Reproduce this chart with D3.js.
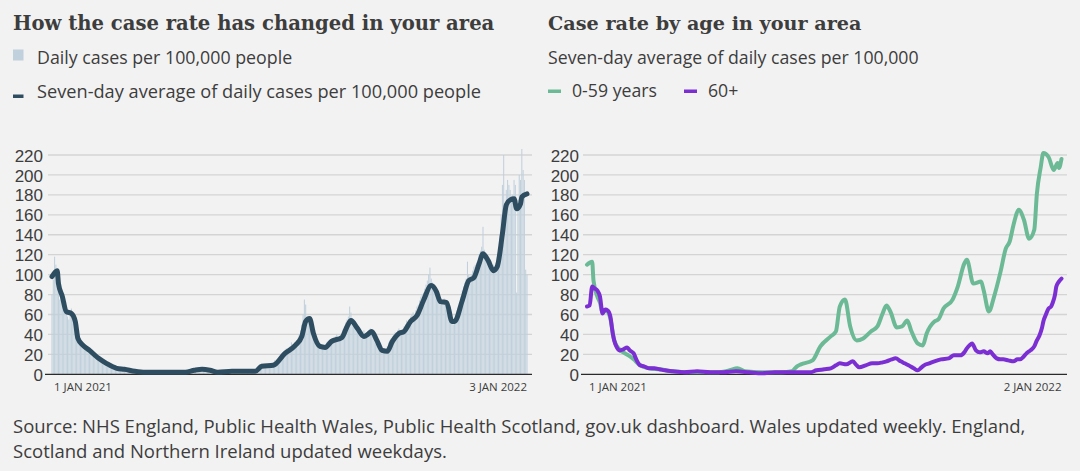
<!DOCTYPE html>
<html>
<head>
<meta charset="utf-8">
<script src="https://cdn.jsdelivr.net/npm/d3@7"></script>
<style>
  html, body { margin: 0; padding: 0; background: #f2f2f2; }
  svg { display: block; }
  .sans { font-family: "Open Sans", "Noto Sans", sans-serif; }
  .tick-sans { font-family: "Liberation Sans", "Open Sans", sans-serif; }
  .serif { font-family: "DejaVu Serif", serif; font-weight: bold; }
</style>
</head>
<body>
<svg id="chart" width="1080" height="471"></svg>
<script>
// ---------------- DATA ----------------
const leftTitle = "How the case rate has changed in your area";
const rightTitle = "Case rate by age in your area";
const rightSubtitle = "Seven-day average of daily cases per 100,000";
const leftLegend = ["Daily cases per 100,000 people", "Seven-day average of daily cases per 100,000 people"];
const rightLegend = ["0-59 years", "60+"];
const yTicks = [0, 20, 40, 60, 80, 100, 120, 140, 160, 180, 200, 220];
const leftXLabels = ["1 JAN 2021", "3 JAN 2022"];
const rightXLabels = ["1 JAN 2021", "2 JAN 2022"];
const sourceLines = [
  "Source: NHS England, Public Health Wales, Public Health Scotland, gov.uk dashboard. Wales updated weekly. England,",
  "Scotland and Northern Ireland updated weekdays."
];
const startDate = "2021-01-01";
const leftEndDate = "2022-01-03";
const rightEndDate = "2022-01-02";

// daily cases per 100,000 (one value per day from 1 Jan 2021)
const dailyCases = [
  80, 95, 118, 110, 100, 90, 75,
  85, 72, 70, 68, 62, 58, 55,
  60, 66, 58, 52, 45, 40, 38,
  40, 36, 33, 30, 28, 24, 26,
  25, 24, 22, 20, 18, 16, 17,
  17, 15, 14, 13, 12, 11, 12,
  12, 10, 9, 8, 8, 7, 7,
  7, 6, 5, 5, 5, 4, 5,
  5, 4, 4, 3, 3, 3, 3,
  3, 3, 3, 2, 3, 2, 3,
  2, 3, 2, 2, 2, 2, 2,
  2, 2, 2, 2, 2, 2, 2,
  2, 2, 3, 2, 2, 2, 2,
  2, 2, 2, 2, 2, 2, 2,
  2, 2, 2, 3, 2, 2, 2,
  3, 3, 4, 4, 5, 5, 4,
  5, 6, 5, 5, 4, 5, 5,
  4, 4, 3, 3, 3, 3, 3,
  2, 2, 2, 2, 2, 2, 3,
  3, 3, 3, 3, 2, 3, 3,
  3, 3, 3, 3, 3, 3, 3,
  3, 3, 4, 3, 3, 4, 3,
  4, 4, 5, 5, 6, 6, 7,
  8, 9, 8, 7, 9, 10, 9,
  10, 9, 10, 12, 14, 12, 11,
  16, 18, 20, 22, 20, 24, 26,
  25, 24, 28, 32, 30, 28, 30,
  34, 36, 40, 44, 50, 60, 75,
  70, 58, 55, 50, 48, 40, 38,
  35, 30, 28, 26, 27, 30, 29,
  28, 30, 32, 33, 34, 35, 36,
  35, 36, 38, 40, 37, 36, 38,
  40, 45, 48, 52, 55, 58, 68,
  62, 52, 50, 48, 45, 42, 40,
  38, 36, 42, 44, 40, 38, 42,
  44, 46, 42, 38, 36, 32, 30,
  26, 24, 22, 22, 24, 26, 25,
  28, 32, 34, 36, 38, 40, 42,
  41, 44, 46, 42, 40, 44, 48,
  50, 54, 52, 55, 58, 60, 62,
  60, 64, 68, 70, 74, 78, 80,
  82, 86, 90, 94, 100, 107, 96,
  92, 88, 84, 80, 76, 74, 70,
  72, 74, 76, 70, 66, 64, 60,
  54, 52, 50, 56, 60, 64, 68,
  72, 78, 84, 88, 92, 96, 113,
  100, 98, 100, 104, 108, 110, 112,
  114, 120, 124, 128, 148, 125, 118,
  116, 112, 108, 104, 102, 110, 106,
  112, 118, 125, 140, 160, 190, 220,
  170, 185, 195, 190, 185, 175, 180,
  195, 190, 82, 175, 200, 195, 226,
  205, 195, 105, 100
];

// seven-day average (day offset from 1 Jan 2021, value)
const avgDays = [0, 4, 5, 8, 11, 15, 18, 20, 24, 29, 36, 42, 50, 56, 64, 72, 97, 103, 110, 116, 122, 128, 139, 157, 162, 171, 180, 188, 193, 196, 199, 202, 207, 211, 216, 224, 228, 231, 236, 241, 244, 247, 251, 255, 259, 263, 268, 272, 277, 282, 287, 293, 297, 300, 305, 309, 311, 317, 322, 326, 330, 333, 337, 341, 344, 348, 351, 354, 357, 359, 362, 363, 367];
const avgValues = [98, 104, 91, 78, 63, 61, 53, 36, 29, 24, 16, 11, 6, 5, 3, 2, 2, 2, 4, 5, 4, 2, 3, 3, 8, 9, 21, 29, 38, 53, 56, 41, 28, 27, 33, 37, 48, 54, 46, 38, 40, 43, 34, 24, 23, 33, 41, 43, 53, 59, 74, 89, 83, 73, 72, 53, 53, 74, 94, 97, 111, 121, 114, 104, 108, 141, 170, 175, 176, 166, 171, 178, 181];

// age groups, seven-day average
const youngDays = [0, 2, 4, 5, 8, 10, 12, 15, 18, 21, 25, 28, 32, 36, 40, 48, 56, 66, 80, 100, 110, 116, 122, 135, 150, 158, 162, 165, 174, 180, 188, 192, 195, 199, 203, 208, 213, 219, 224, 228, 231, 234, 239, 243, 247, 250, 255, 259, 262, 268, 271, 275, 282, 286, 291, 293, 298, 304, 306, 310, 314, 319, 323, 326, 329, 333, 337, 341, 345, 347, 350, 352, 356, 360, 363, 364, 366];
const youngValues = [110, 112, 113, 94, 78, 72, 62, 64, 56, 34, 25, 22, 19, 15, 10, 6, 5, 3, 2, 2, 4, 6, 3, 2, 2, 3, 8, 10, 14, 28, 38, 43, 68, 75, 48, 34, 36, 43, 48, 61, 69, 63, 47, 48, 54, 44, 31, 29, 41, 53, 55, 66, 75, 88, 111, 115, 91, 93, 84, 63, 78, 103, 126, 133, 150, 165, 155, 136, 145, 181, 208, 222, 218, 205, 212, 207, 216];

const oldDays = [0, 2, 4, 6, 8, 10, 12, 14, 16, 18, 20, 21, 23, 25, 28, 31, 33, 36, 38, 41, 44, 48, 52, 56, 60, 66, 75, 85, 95, 105, 115, 125, 135, 145, 155, 165, 172, 177, 183, 188, 192, 195, 200, 205, 208, 210, 215, 220, 224, 228, 231, 235, 238, 242, 245, 248, 252, 255, 258, 260, 264, 268, 273, 279, 283, 288, 291, 293, 295, 297, 300, 303, 306, 309, 311, 313, 316, 319, 321, 325, 329, 332, 334, 337, 339, 342, 345, 347, 349, 351, 352, 354, 356, 358, 359, 361, 362, 364, 366];
const oldValues = [68, 69, 88, 86, 84, 78, 61, 65, 64, 58, 40, 34, 27, 24, 25, 27, 24, 21, 15, 9, 8, 6, 6, 5, 4, 3, 2, 3, 2, 2, 3, 2, 1, 2, 2, 2, 2, 4, 5, 6, 9, 11, 10, 13, 9, 7, 9, 11, 11, 12, 13, 15, 16, 13, 11, 9, 6, 4, 7, 9, 11, 13, 15, 16, 19, 19, 22, 26, 29, 31, 24, 22, 23, 21, 23, 20, 16, 15, 15, 14, 13, 15, 15, 18, 21, 24, 28, 34, 39, 47, 53, 60, 66, 68, 71, 80, 88, 93, 96];

// ---------------- STYLE ----------------
const C = {
  text: "#3d3d3d",
  grid: "#d4d4d4",
  axis: "#2a2a2a",
  bar: "#c0d0dc",
  avg: "#2e4d60",
  young: "#6bba95",
  old: "#7b2fd3"
};

const svg = d3.select("#chart");
svg.append("rect").attr("width", 1080).attr("height", 471).attr("fill", "#f2f2f2");

const parse = d3.utcParse("%Y-%m-%d");
const d0 = parse(startDate);
const dayToDate = d => d3.utcDay.offset(d0, d);

const y = d3.scaleLinear().domain([0, 220]).range([374.3, 155]);

function drawFrame(gridX0, gridX1, labelX) {
  const g = svg.append("g");
  const axis = d3.axisLeft(y).tickValues(yTicks).tickSize(0).tickPadding(0);
  const ag = g.append("g").attr("transform", `translate(${labelX},0)`).call(axis);
  ag.select(".domain").remove();
  ag.selectAll("text")
    .attr("class", "tick-sans")
    .attr("font-size", 17)
    .attr("fill", C.text)
    .attr("dy", "0.36em")
    .attr("x", 0);
  g.selectAll("line.grid").data(yTicks.filter(t => t > 0)).join("line")
    .attr("class", "grid")
    .attr("x1", gridX0).attr("x2", gridX1)
    .attr("y1", d => y(d)).attr("y2", d => y(d))
    .attr("stroke", C.grid).attr("stroke-width", 1.3);
  return g;
}

function drawAxisLine(gridX0, gridX1) {
  svg.append("line")
    .attr("x1", gridX0).attr("x2", gridX1)
    .attr("y1", y(0)).attr("y2", y(0))
    .attr("stroke", C.axis).attr("stroke-width", 1.2);
}

function drawXLabels(xs, labels) {
  const [a, b] = xs.domain();
  svg.append("text").attr("class", "sans").attr("x", xs(a) + 2).attr("y", 391)
    .attr("font-size", 11.5).attr("fill", C.text).attr("text-anchor", "start").text(labels[0]);
  svg.append("text").attr("class", "sans").attr("x", xs(b)).attr("y", 391)
    .attr("font-size", 11.5).attr("fill", C.text).attr("text-anchor", "end").text(labels[1]);
}

// ---------------- LEFT CHART ----------------
const xL = d3.scaleUtc().domain([d0, parse(leftEndDate)]).range([52, 527]);
drawFrame(48, 532, 43);

const dayW = xL(dayToDate(1)) - xL(dayToDate(0));
svg.append("g").selectAll("rect").data(dailyCases).join("rect")
  .attr("x", (d, i) => xL(dayToDate(i)) - dayW * 0.4)
  .attr("width", dayW * 0.8)
  .attr("y", d => y(d))
  .attr("height", d => y(0) - y(d))
  .attr("fill", C.bar);

drawAxisLine(45, 532);

const avgData = avgDays.map((d, i) => [dayToDate(d), avgValues[i]]);
svg.append("path")
  .datum(avgData)
  .attr("fill", "none")
  .attr("stroke", C.avg)
  .attr("stroke-width", 5)
  .attr("stroke-linejoin", "round")
  .attr("stroke-linecap", "round")
  .attr("d", d3.line().x(d => xL(d[0])).y(d => y(d[1])).curve(d3.curveMonotoneX));

drawXLabels(xL, leftXLabels);

// ---------------- RIGHT CHART ----------------
const xR = d3.scaleUtc().domain([d0, parse(rightEndDate)]).range([587, 1061.5]);
drawFrame(583, 1067, 579);
drawAxisLine(581, 1067);

const lineR = d3.line().x(d => xR(d[0])).y(d => y(d[1])).curve(d3.curveMonotoneX);
const youngData = youngDays.map((d, i) => [dayToDate(d), youngValues[i]]);
const oldData = oldDays.map((d, i) => [dayToDate(d), oldValues[i]]);
svg.append("path").datum(youngData)
  .attr("fill", "none").attr("stroke", C.young).attr("stroke-width", 4)
  .attr("stroke-linejoin", "round").attr("stroke-linecap", "round")
  .attr("d", lineR);
svg.append("path").datum(oldData)
  .attr("fill", "none").attr("stroke", C.old).attr("stroke-width", 4)
  .attr("stroke-linejoin", "round").attr("stroke-linecap", "round")
  .attr("d", lineR);

drawXLabels(xR, rightXLabels);

// ---------------- TITLES & LEGENDS ----------------
svg.append("text").attr("class", "serif").attr("x", 13).attr("y", 29.5)
  .attr("font-size", 19.6).attr("fill", C.text).text(leftTitle);
svg.append("text").attr("class", "serif").attr("x", 548).attr("y", 29.5)
  .attr("font-size", 19.2).attr("fill", C.text).text(rightTitle);

// left legend
svg.append("rect").attr("x", 13).attr("y", 49.5).attr("width", 10.5).attr("height", 11).attr("fill", C.bar);
svg.append("text").attr("class", "sans").attr("x", 37).attr("y", 63.5)
  .attr("font-size", 17.8).attr("fill", C.text).text(leftLegend[0]);
svg.append("rect").attr("x", 13).attr("y", 94.5).attr("width", 10.5).attr("height", 3.5).attr("fill", C.avg);
svg.append("text").attr("class", "sans").attr("x", 37).attr("y", 98)
  .attr("font-size", 18.2).attr("fill", C.text).text(leftLegend[1]);

// right subtitle & legend
svg.append("text").attr("class", "sans").attr("x", 548).attr("y", 63.5)
  .attr("font-size", 17.7).attr("fill", C.text).text(rightSubtitle);
svg.append("rect").attr("x", 548).attr("y", 89.5).attr("width", 13).attr("height", 3.5).attr("fill", C.young);
svg.append("text").attr("class", "sans").attr("x", 572).attr("y", 97)
  .attr("font-size", 17.7).attr("fill", C.text).text(rightLegend[0]);
svg.append("rect").attr("x", 684).attr("y", 89.5).attr("width", 13).attr("height", 3.5).attr("fill", C.old);
svg.append("text").attr("class", "sans").attr("x", 708).attr("y", 97)
  .attr("font-size", 17.7).attr("fill", C.text).text(rightLegend[1]);

// source
sourceLines.forEach((s, i) => {
  svg.append("text").attr("class", "sans").attr("x", 13).attr("y", 433 + i * 25)
    .attr("font-size", 18.5).attr("fill", C.text).text(s);
});
</script>
</body>
</html>
